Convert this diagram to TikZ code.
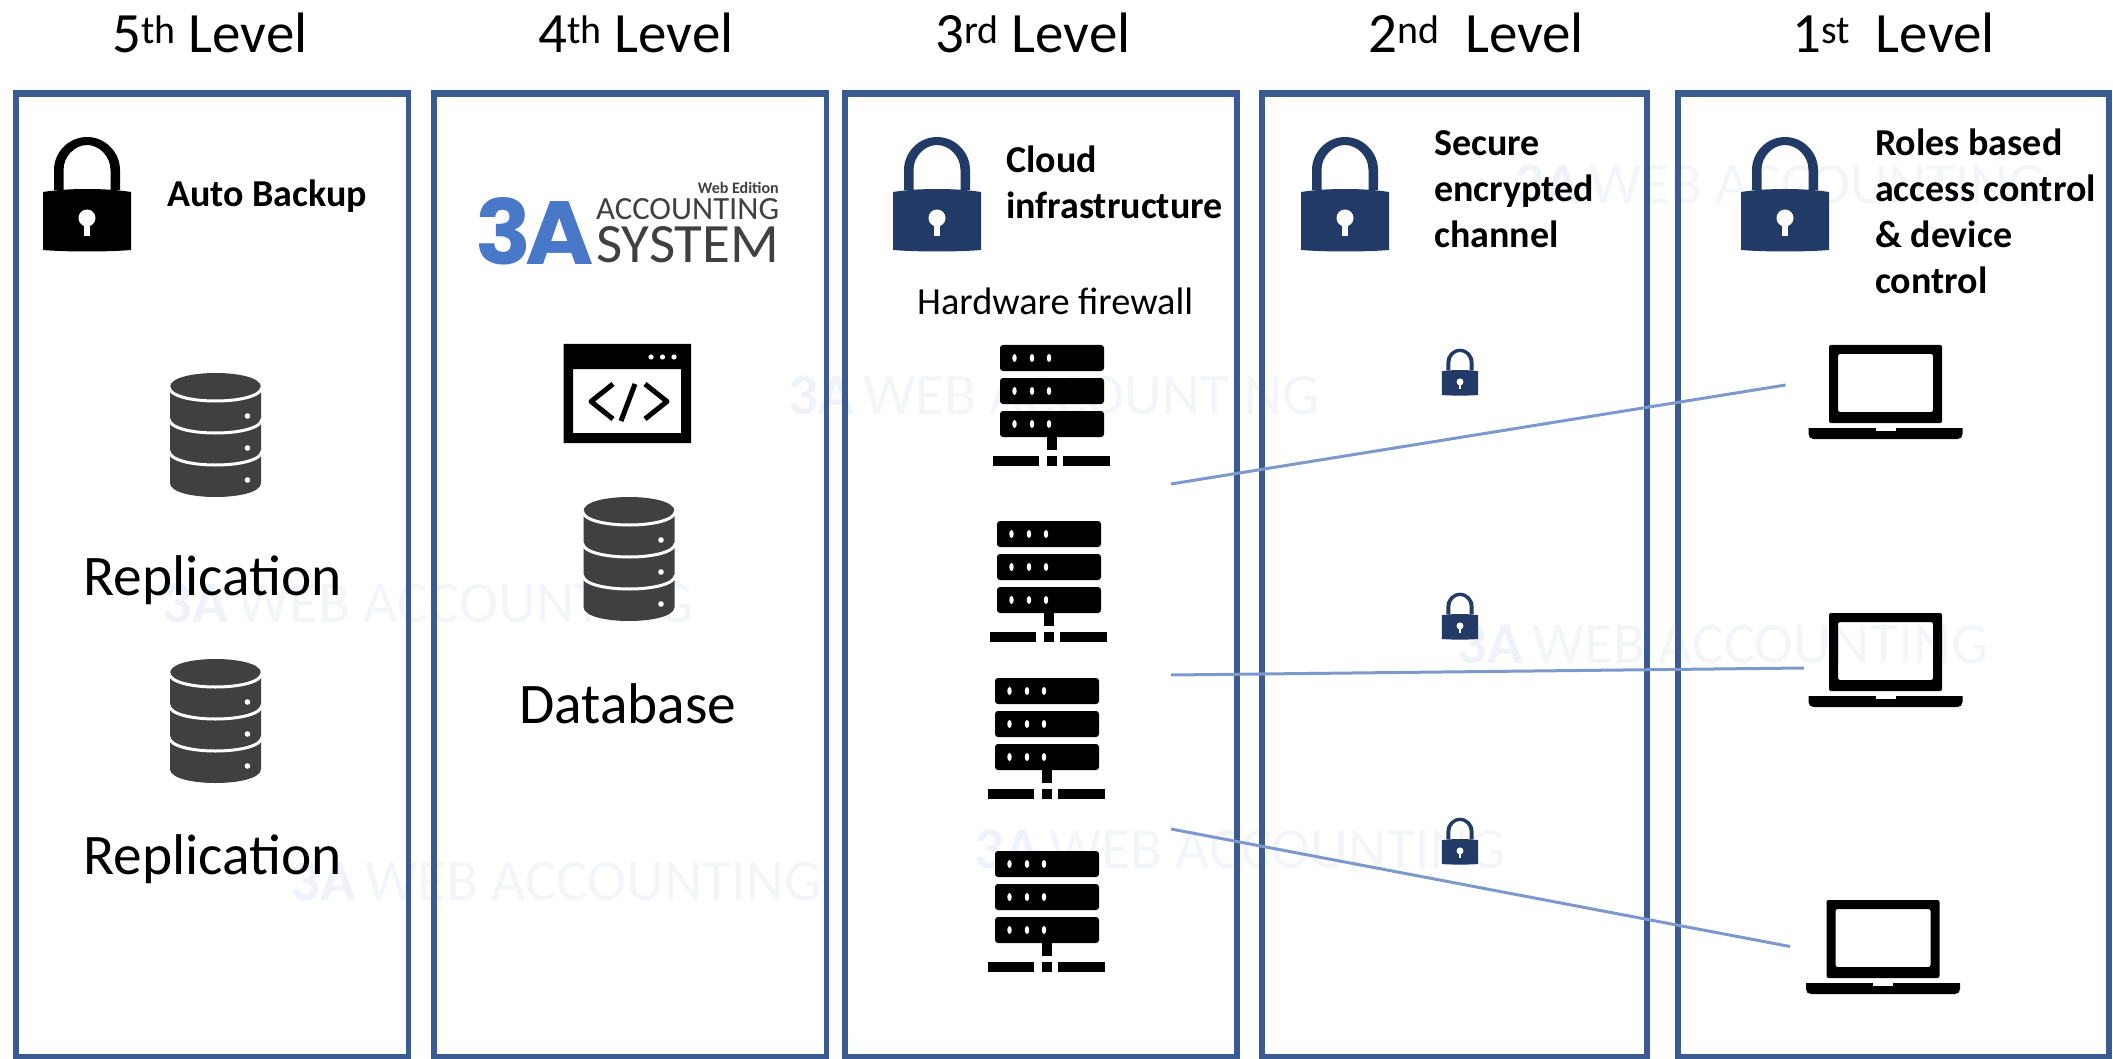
\documentclass[tikz,border=0pt]{standalone}
\usepackage{fontspec}
\setmainfont{Carlito}
\newfontfamily\logofont{Poppins}
\definecolor{boxblue}{HTML}{3A5A92}
\definecolor{linkblue}{HTML}{7C98CC}
\definecolor{navy}{HTML}{223A66}
\definecolor{dbgray}{HTML}{404040}
\definecolor{wmtext}{HTML}{F4F5F8}
\definecolor{wmmark}{HTML}{EFF3F9}
\definecolor{logoblue}{HTML}{4A78C8}
\newcommand{\fsz}[1]{\fontsize{#1}{#1}\selectfont}
\newcommand{\wmark}{\resizebox{531pt}{!}{\fsz{54}\textcolor{wmmark}{\bfseries 3A}\,\textcolor{wmtext}{WEB ACCOUNTING}}}
\tikzset{
  panel/.style={draw=boxblue,line width=5.5pt},
  panelcap/.style={draw=boxblue,line width=7.5pt},
  link/.style={draw=linkblue,line width=3pt},
  lvl/.style={anchor=base west,inner sep=0pt,font=\fsz{57}},
  big/.style={anchor=base west,inner sep=0pt,font=\fsz{57.4}},
  note/.style={anchor=base west,inner sep=0pt,align=left,font=\fontsize{38}{46}\selectfont\bfseries},
  plain/.style={anchor=base west,inner sep=0pt,font=\fsz{38.3}},
  wm/.style={anchor=base west,inner sep=0pt},
  pics/lockicon/.style={code={
    \fill[#1,even odd rule] (-33,1) -- (-33,-19) .. controls (-33,-37) and (-18,-52) .. (0,-52) .. controls (18,-52) and (33,-37) .. (33,-19) -- (33,1) -- (23.5,1) -- (23.5,-19) .. controls (23.5,-33) and (12,-44) .. (0,-44) .. controls (-12,-44) and (-23.5,-33) .. (-23.5,-19) -- (-23.5,1) -- cycle;
    \fill[#1] (-44,3) .. controls (-20,-1) and (20,-1) .. (44,3) -- (44,61) .. controls (20,63) and (-20,63) .. (-44,61) -- cycle;
    \fill[white] (0,29) circle (8.5);
    \fill[white] (-3,32) -- (3,32) -- (3,47.5) -- (-3,47.5) -- cycle;
  }},
  pics/servericon/.style={code={
    \foreach \k in {0,33,66} {
      \fill[black,rounded corners=3pt] (-52,\k) rectangle (52,\k+26);
      \foreach \d in {-37.5,-20,-3} \fill[white] (\d,\k+13) ellipse (2.2 and 4);
    }
    \fill[black] (-5,92) rectangle (5,105);
    \fill[black] (-59,111) rectangle (-13,121);
    \fill[black] (-5,111) rectangle (5,121);
    \fill[black] (11,111) rectangle (58,121);
  }},
  pics/dbicon/.style={code={
    \fill[dbgray] (-45.5,14) .. controls (-45.5,-4.67) and (45.5,-4.67) .. (45.5,14) -- (45.5,110) .. controls (45.5,128.67) and (-45.5,128.67) .. (-45.5,110) -- cycle;
    \foreach \k in {14,46,78} {
      \draw[white,line width=3pt] (-46.5,\k) .. controls (-45.5,\k+18.67) and (45.5,\k+18.67) .. (46.5,\k);
      \fill[white] (32,\k+29) circle (2.8);
    }
  }},
  pics/laptopicon/.style={code={
    \fill[black,even odd rule,rounded corners=2pt] (-56.5,0) rectangle (56.5,78) (-47.5,9) rectangle (47.5,67);
    \fill[black] (-77,83) -- (77,83) -- (77,89) .. controls (77,92) and (75,94) .. (72,94) -- (-72,94) .. controls (-75,94) and (-77,92) .. (-77,89) -- cycle;
    \fill[white] (-10,83) rectangle (10,86);
  }},
}
\begin{document}
\begin{tikzpicture}[x=1pt,y=-1pt]
\useasboundingbox (0,0) rectangle (2113,1059);
% watermarks
\node[wm] (wma) at (788,414) {\wmark};
\node[wm] (wmb) at (162,622) {\wmark};
\node[wm] (wmc) at (290,900) {\wmark};
\node[wm] (wmd) at (974,868) {\wmark};
\node[wm] (wme) at (1457,663) {\wmark};
\node[wm] (wmf) at (1514,204) {\wmark};
% panels
\foreach \l/\r in {16/408.5,434/826.5,845/1237,1262/1647,1678/2109} {
  \draw[panel] (\l,94) rectangle (\r,1056.5);
  \draw[panelcap] (\l-2.75,93.5) -- (\r+2.75,93.5);
}
% titles
\node[lvl] (t5) at (112,53) {5\textsuperscript{th} Level};
\node[lvl] (t4) at (538,53) {4\textsuperscript{th} Level};
\node[lvl] (t3) at (935,53) {3\textsuperscript{rd} Level};
\node[lvl] (t2) at (1368,53) {2\textsuperscript{nd}\ \ Level};
\node[lvl] (t1) at (1792,53) {1\textsuperscript{st}\ \ Level};
% locks
\pic at (87,189) {lockicon=black};
\pic at (937,189) {lockicon=navy};
\pic at (1345,189) {lockicon=navy};
\pic at (1785,189) {lockicon=navy};
\pic[scale=0.41] at (1460,370) {lockicon=navy};
\pic[scale=0.41] at (1460,614) {lockicon=navy};
\pic[scale=0.41] at (1460,839) {lockicon=navy};
% notes (anchored on the baseline of their last line)
\node[note] (n5) at (167,207) {Auto Backup};
\node[note] (n3) at (1006,218.5) {Cloud\\infrastructure};
\node[note] (n2) at (1434,248) {Secure\\encrypted\\channel};
\node[note] (n1) at (1875,293.5) {Roles based\\access control\\\& device\\control};
\node[plain] (hw) at (917,315) {Hardware firewall};
\node[big] (rep1) at (83.5,595) {Replication};
\node[big] (rep2) at (83.5,874) {Replication};
\node[big] (dbt) at (519,723) {Database};
% logo
\node[anchor=base east,inner sep=0pt,text=dbgray] (lw) at (779,194) {\resizebox{81pt}{!}{\fsz{14}\bfseries Web Edition}};
\node[anchor=base west,inner sep=0pt,text=dbgray] (la) at (596,220) {\resizebox{183pt}{21pt}{\fsz{30}ACCOUNTING}};
\node[anchor=base west,inner sep=0pt,text=dbgray] (ls) at (596,263) {\resizebox{183pt}{36pt}{\fsz{50}SYSTEM}};
\node[anchor=base west,inner sep=0pt,text=logoblue] (l3a) at (475,265) {\resizebox{119pt}{67pt}{\logofont\bfseries\fsz{60}3\kern-0.06em A}};
% icons
\pic at (215.5,373) {dbicon};
\pic at (215.5,659) {dbicon};
\pic at (629,497) {dbicon};
\pic at (1052,345) {servericon};
\pic at (1049,521) {servericon};
\pic at (1047,678) {servericon};
\pic at (1047,851) {servericon};
\pic at (1885.5,345) {laptopicon};
\pic at (1885.5,613) {laptopicon};
\pic at (1883,900) {laptopicon};
% code window
\fill[black,even odd rule] (563.5,344) rectangle (691,443) (573,369) rectangle (681,433);
\foreach \d in {651,662.5,674} \fill[white] (\d,357) circle (2.6);
\draw[black,line width=5pt,line join=round] (613,384) -- (591,401.5) -- (613,419);
\draw[black,line width=5pt,line join=round] (645,384) -- (667,401.5) -- (645,419);
\draw[black,line width=5pt] (635,384) -- (621,421);
% connectors
\coordinate (a1) at (1171,484); \coordinate (b1) at (1785.6,385);
\coordinate (a2) at (1171,675); \coordinate (b2) at (1804,668);
\coordinate (a3) at (1171,829); \coordinate (b3) at (1790,946.5);
\draw[link] (a1) -- (b1);
\draw[link] (a2) -- (b2);
\draw[link] (a3) -- (b3);
\end{tikzpicture}
\end{document}
